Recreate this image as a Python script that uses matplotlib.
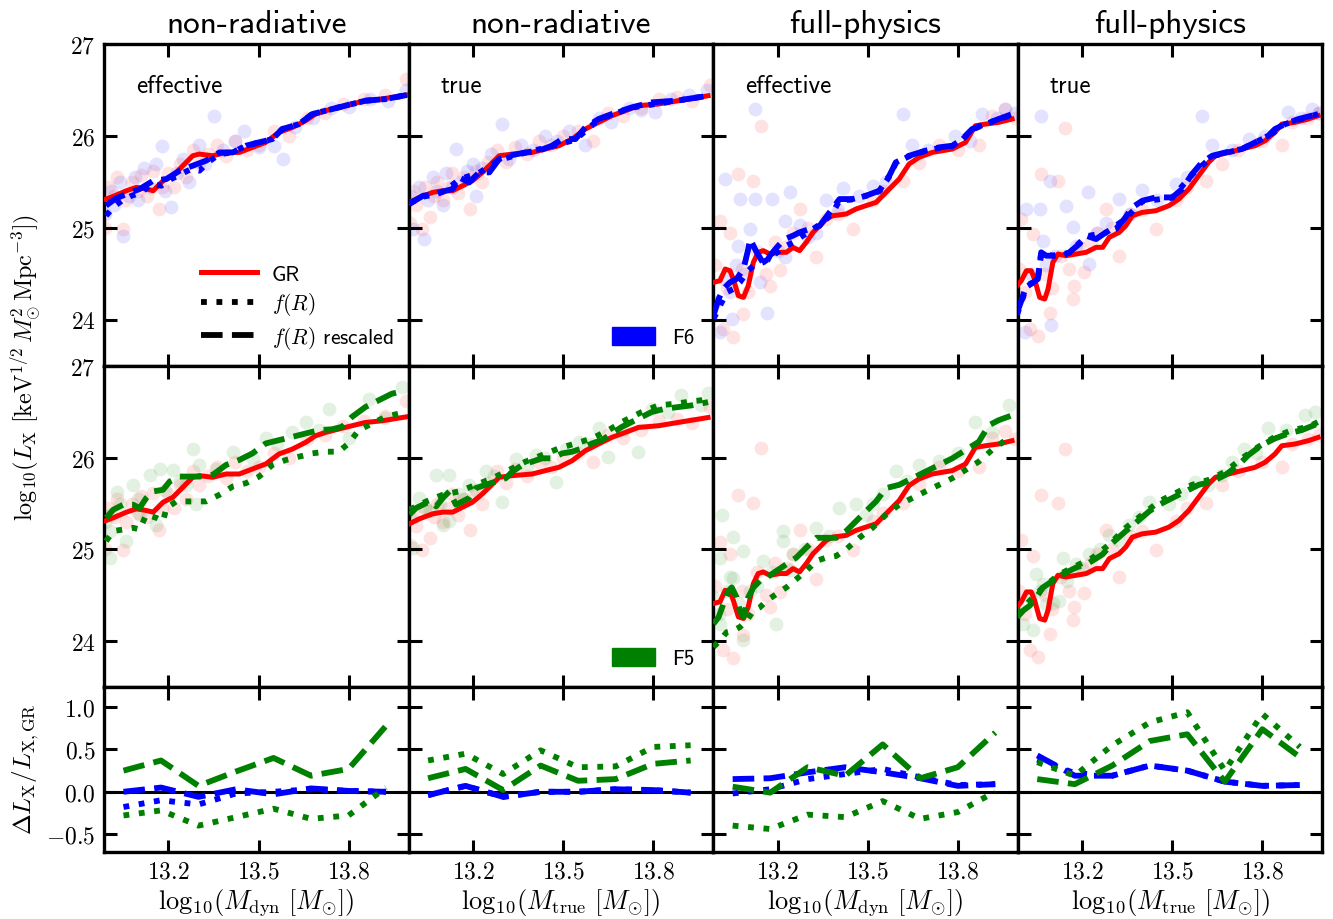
import matplotlib
matplotlib.use("Agg")
import matplotlib.pyplot as plt
from matplotlib.lines import Line2D
from matplotlib.patches import Patch

plt.rcParams['mathtext.fontset'] = 'cm'
plt.rcParams['font.family'] = ['cmss10', 'DejaVu Sans']
plt.rcParams['axes.unicode_minus'] = False

# ---------------- data ----------------
COL_TITLES = ["non-radiative", "non-radiative", "full-physics", "full-physics"]
COL_TAGS = ["effective", "true", "effective", "true"]
XLABELS = [r'$\mathrm{log}_{10}(M_{\rm dyn}\ [M_{\odot}])$', r'$\mathrm{log}_{10}(M_{\rm true}\ [M_{\odot}])$',
           r'$\mathrm{log}_{10}(M_{\rm dyn}\ [M_{\odot}])$', r'$\mathrm{log}_{10}(M_{\rm true}\ [M_{\odot}])$']

# GR running medians (shared by rows 1 and 2)
gr_x_c1 = [12.992, 13.021, 13.06, 13.093, 13.126, 13.149, 13.182, 13.215, 13.259, 13.281, 13.303, 13.347, 13.392, 13.436, 13.48, 13.524, 13.568, 13.613, 13.657, 13.69, 13.723, 13.767, 13.811, 13.856, 13.911, 13.966, 13.994]
gr_y_c1 = [25.315, 25.351, 25.406, 25.442, 25.424, 25.406, 25.514, 25.569, 25.714, 25.786, 25.804, 25.786, 25.822, 25.822, 25.877, 25.931, 26.04, 26.094, 26.167, 26.239, 26.275, 26.312, 26.348, 26.384, 26.402, 26.431, 26.446]
gr_x_c2 = [12.988, 13.021, 13.066, 13.099, 13.132, 13.165, 13.198, 13.231, 13.265, 13.287, 13.331, 13.397, 13.441, 13.486, 13.53, 13.574, 13.618, 13.662, 13.707, 13.751, 13.817, 13.883, 13.95, 13.983]
gr_y_c2 = [25.279, 25.333, 25.388, 25.406, 25.406, 25.46, 25.514, 25.605, 25.714, 25.786, 25.804, 25.822, 25.859, 25.895, 25.967, 26.076, 26.149, 26.221, 26.275, 26.33, 26.348, 26.384, 26.42, 26.438]
gr_x_c3 = [12.986, 13.008, 13.025, 13.041, 13.052, 13.069, 13.086, 13.102, 13.119, 13.135, 13.152, 13.174, 13.207, 13.229, 13.251, 13.273, 13.295, 13.318, 13.34, 13.362, 13.384, 13.428, 13.461, 13.494, 13.528, 13.561, 13.605, 13.638, 13.671, 13.715, 13.782, 13.826, 13.859, 13.892, 13.936, 13.981]
gr_y_c3 = [24.409, 24.428, 24.554, 24.536, 24.446, 24.264, 24.246, 24.373, 24.627, 24.736, 24.754, 24.717, 24.736, 24.736, 24.79, 24.754, 24.844, 24.953, 25.025, 25.098, 25.134, 25.152, 25.207, 25.243, 25.279, 25.388, 25.533, 25.696, 25.768, 25.822, 25.859, 25.931, 26.112, 26.13, 26.149, 26.185]
gr_x_c4 = [12.983, 12.997, 13.014, 13.03, 13.041, 13.058, 13.075, 13.086, 13.102, 13.119, 13.146, 13.179, 13.213, 13.246, 13.268, 13.29, 13.323, 13.345, 13.367, 13.40, 13.445, 13.489, 13.522, 13.555, 13.588, 13.621, 13.644, 13.688, 13.732, 13.776, 13.809, 13.842, 13.865, 13.909, 13.953, 13.986]
gr_y_c4 = [24.373, 24.428, 24.536, 24.536, 24.446, 24.246, 24.228, 24.337, 24.627, 24.717, 24.699, 24.717, 24.736, 24.79, 24.79, 24.899, 24.953, 25.025, 25.134, 25.17, 25.188, 25.243, 25.315, 25.424, 25.569, 25.714, 25.786, 25.822, 25.859, 25.895, 25.949, 26.04, 26.13, 26.149, 26.185, 26.221]

# F6 medians (row 1): dotted = f(R), dashed = f(R) rescaled
f6d_x_c1 = [12.992, 13.016, 13.044, 13.077, 13.11, 13.143, 13.176, 13.209, 13.242, 13.275, 13.303, 13.331, 13.37, 13.414, 13.458, 13.502, 13.546, 13.579, 13.635, 13.679, 13.723, 13.789, 13.856, 13.922, 13.994]
f6d_y_c1 = [25.134, 25.225, 25.297, 25.351, 25.388, 25.478, 25.46, 25.533, 25.587, 25.641, 25.623, 25.714, 25.804, 25.822, 25.895, 25.931, 25.967, 26.076, 26.13, 26.239, 26.275, 26.33, 26.384, 26.402, 26.446]
f6r_x_c1 = [12.992, 13.021, 13.06, 13.104, 13.149, 13.193, 13.237, 13.281, 13.325, 13.37, 13.414, 13.458, 13.502, 13.546, 13.579, 13.635, 13.679, 13.723, 13.789, 13.856, 13.922, 13.994]
f6r_y_c1 = [25.243, 25.315, 25.37, 25.424, 25.514, 25.533, 25.623, 25.678, 25.732, 25.822, 25.822, 25.895, 25.931, 25.967, 26.076, 26.13, 26.239, 26.275, 26.33, 26.384, 26.402, 26.446]
f6r_x_c2 = [12.988, 13.033, 13.077, 13.11, 13.132, 13.154, 13.187, 13.22, 13.254, 13.287, 13.32, 13.375, 13.419, 13.463, 13.497, 13.541, 13.574, 13.618, 13.662, 13.729, 13.795, 13.872, 13.95, 13.983]
f6r_y_c2 = [25.261, 25.351, 25.37, 25.406, 25.424, 25.551, 25.496, 25.605, 25.605, 25.75, 25.786, 25.822, 25.841, 25.895, 25.967, 25.967, 26.094, 26.185, 26.239, 26.312, 26.366, 26.384, 26.42, 26.438]
f6d_x_c2 = [12.988, 13.033, 13.077, 13.11, 13.154, 13.22, 13.287, 13.375, 13.463, 13.541, 13.618, 13.729, 13.872, 13.983]
f6d_y_c2 = [25.27, 25.34, 25.37, 25.41, 25.53, 25.60, 25.74, 25.82, 25.89, 25.96, 26.18, 26.31, 26.38, 26.44]
f6r_x_c3 = [12.986, 13.003, 13.019, 13.041, 13.063, 13.086, 13.102, 13.108, 13.13, 13.157, 13.174, 13.202, 13.224, 13.251, 13.273, 13.306, 13.34, 13.373, 13.406, 13.45, 13.494, 13.539, 13.572, 13.594, 13.638, 13.693, 13.738, 13.782, 13.815, 13.848, 13.892, 13.936, 13.981]
f6r_y_c3 = [24.047, 24.228, 24.337, 24.409, 24.446, 24.554, 24.772, 24.88, 24.736, 24.591, 24.699, 24.808, 24.88, 24.917, 24.953, 24.989, 25.025, 25.17, 25.315, 25.315, 25.351, 25.406, 25.569, 25.714, 25.786, 25.841, 25.877, 25.895, 25.967, 26.076, 26.13, 26.185, 26.239]
f6d_x_c3 = [12.986, 13.008, 13.03, 13.052, 13.074, 13.097, 13.119, 13.152, 13.185, 13.218, 13.251, 13.284, 13.318, 13.351, 13.384, 13.406, 13.45, 13.494, 13.539, 13.572, 13.594, 13.638, 13.693, 13.738, 13.782, 13.815, 13.848, 13.892, 13.936, 13.981]
f6d_y_c3 = [24.011, 24.156, 24.301, 24.337, 24.409, 24.518, 24.591, 24.627, 24.699, 24.79, 24.844, 24.917, 24.989, 25.062, 25.17, 25.30, 25.31, 25.35, 25.40, 25.56, 25.71, 25.78, 25.84, 25.87, 25.89, 25.96, 26.07, 26.13, 26.18, 26.23]
f6r_x_c4 = [12.983, 12.997, 13.014, 13.036, 13.052, 13.063, 13.08, 13.102, 13.135, 13.157, 13.19, 13.213, 13.246, 13.279, 13.312, 13.34, 13.367, 13.40, 13.445, 13.5, 13.533, 13.566, 13.599, 13.633, 13.677, 13.732, 13.776, 13.82, 13.842, 13.876, 13.92, 13.986]
f6r_y_c4 = [24.083, 24.21, 24.373, 24.409, 24.446, 24.736, 24.699, 24.699, 24.699, 24.736, 24.826, 24.917, 24.88, 24.953, 24.989, 25.098, 25.225, 25.297, 25.333, 25.333, 25.424, 25.587, 25.714, 25.786, 25.822, 25.859, 25.931, 26.004, 26.076, 26.13, 26.185, 26.239]
f6d_x_c4 = [12.983, 13.014, 13.052, 13.063, 13.102, 13.157, 13.213, 13.279, 13.34, 13.40, 13.5, 13.566, 13.633, 13.732, 13.82, 13.876, 13.986]
f6d_y_c4 = [24.06, 24.36, 24.44, 24.72, 24.70, 24.73, 24.91, 24.95, 25.09, 25.29, 25.33, 25.58, 25.78, 25.86, 26.00, 26.13, 26.24]

# F5 medians (row 2)
f5r_x_c1 = [12.992, 13.016, 13.049, 13.082, 13.104, 13.126, 13.149, 13.182, 13.204, 13.237, 13.27, 13.303, 13.347, 13.392, 13.436, 13.48, 13.524, 13.568, 13.613, 13.657, 13.701, 13.745, 13.778, 13.811, 13.856, 13.90, 13.944, 13.988]
f5r_y_c1 = [25.343, 25.433, 25.487, 25.487, 25.451, 25.56, 25.632, 25.65, 25.74, 25.794, 25.794, 25.794, 25.812, 25.921, 25.975, 26.047, 26.155, 26.191, 26.227, 26.264, 26.30, 26.31, 26.336, 26.444, 26.552, 26.625, 26.697, 26.733]
f5d_x_c1 = [12.992, 13.016, 13.049, 13.082, 13.104, 13.126, 13.16, 13.182, 13.193, 13.226, 13.259, 13.292, 13.325, 13.37, 13.414, 13.458, 13.502, 13.546, 13.591, 13.635, 13.679, 13.723, 13.767, 13.80, 13.834, 13.878, 13.922, 13.966, 13.988]
f5d_y_c1 = [25.09, 25.199, 25.217, 25.235, 25.217, 25.379, 25.343, 25.307, 25.451, 25.523, 25.523, 25.523, 25.523, 25.596, 25.686, 25.722, 25.794, 25.921, 25.975, 26.011, 26.047, 26.065, 26.065, 26.155, 26.30, 26.372, 26.444, 26.48, 26.498]
f5r_x_c2 = [12.988, 13.01, 13.033, 13.055, 13.077, 13.099, 13.121, 13.143, 13.165, 13.187, 13.209, 13.242, 13.276, 13.309, 13.331, 13.364, 13.397, 13.43, 13.463, 13.497, 13.53, 13.563, 13.596, 13.629, 13.662, 13.696, 13.729, 13.762, 13.795, 13.839, 13.883, 13.928, 13.983]
f5r_y_c2 = [25.379, 25.451, 25.487, 25.523, 25.469, 25.56, 25.632, 25.487, 25.523, 25.56, 25.668, 25.704, 25.74, 25.776, 25.848, 25.921, 25.957, 25.993, 25.993, 26.047, 26.065, 26.101, 26.155, 26.191, 26.264, 26.336, 26.39, 26.444, 26.498, 26.534, 26.552, 26.57, 26.606]
f5d_x_c2 = [12.988, 13.044, 13.099, 13.154, 13.209, 13.265, 13.32, 13.375, 13.43, 13.486, 13.541, 13.596, 13.651, 13.707, 13.762, 13.817, 13.872, 13.928, 13.983]
f5d_y_c2 = [25.433, 25.523, 25.596, 25.632, 25.704, 25.776, 25.866, 25.957, 26.029, 26.101, 26.155, 26.209, 26.30, 26.408, 26.498, 26.57, 26.588, 26.614, 26.635]
f5r_x_c3 = [12.986, 13.003, 13.019, 13.036, 13.047, 13.063, 13.074, 13.086, 13.102, 13.119, 13.141, 13.163, 13.196, 13.229, 13.262, 13.295, 13.329, 13.362, 13.395, 13.428, 13.461, 13.494, 13.528, 13.561, 13.605, 13.649, 13.693, 13.738, 13.782, 13.826, 13.87, 13.904, 13.936, 13.981]
f5r_y_c3 = [24.188, 24.26, 24.404, 24.549, 24.585, 24.477, 24.332, 24.26, 24.477, 24.585, 24.657, 24.693, 24.765, 24.838, 24.91, 25.018, 25.126, 25.126, 25.126, 25.199, 25.307, 25.415, 25.523, 25.668, 25.704, 25.776, 25.848, 25.921, 25.993, 26.083, 26.173, 26.354, 26.408, 26.462]
f5d_x_c3 = [12.986, 13.008, 13.03, 13.052, 13.074, 13.097, 13.119, 13.141, 13.163, 13.196, 13.229, 13.262, 13.295, 13.329, 13.362, 13.395, 13.428, 13.472, 13.516, 13.561, 13.605, 13.649, 13.693, 13.738, 13.782, 13.826, 13.87, 13.914, 13.959, 13.981]
f5d_y_c3 = [23.935, 24.007, 24.097, 24.115, 24.152, 24.224, 24.332, 24.368, 24.44, 24.513, 24.585, 24.675, 24.765, 24.874, 24.91, 24.928, 25.0, 25.126, 25.235, 25.379, 25.487, 25.56, 25.632, 25.704, 25.776, 25.866, 25.957, 26.083, 26.191, 26.227]
f5r_x_c4 = [12.983, 13.003, 13.025, 13.047, 13.069, 13.102, 13.135, 13.179, 13.224, 13.268, 13.301, 13.345, 13.378, 13.423, 13.456, 13.5, 13.544, 13.588, 13.633, 13.677, 13.721, 13.754, 13.798, 13.842, 13.887, 13.931, 13.986]
f5r_y_c4 = [24.26, 24.332, 24.386, 24.477, 24.585, 24.657, 24.729, 24.801, 24.856, 24.946, 25.072, 25.199, 25.289, 25.415, 25.487, 25.56, 25.632, 25.704, 25.74, 25.812, 25.921, 26.029, 26.137, 26.209, 26.264, 26.30, 26.372]
f5d_x_c4 = [12.983, 13.025, 13.069, 13.124, 13.179, 13.235, 13.29, 13.345, 13.40, 13.456, 13.511, 13.566, 13.621, 13.677, 13.732, 13.787, 13.842, 13.898, 13.953, 13.986]
f5d_y_c4 = [24.296, 24.44, 24.585, 24.729, 24.819, 24.91, 25.054, 25.235, 25.379, 25.523, 25.614, 25.704, 25.758, 25.848, 25.993, 26.119, 26.227, 26.30, 26.336, 26.39]

# scatter: individual clusters
gr_sx_c1 = [12.99, 13.00, 13.02, 13.03, 13.05, 13.06, 13.08, 13.10, 13.11, 13.13, 13.15, 13.17, 13.18, 13.20, 13.22, 13.24, 13.26, 13.28, 13.30, 13.33, 13.36, 13.39, 13.42, 13.46, 13.50, 13.55, 13.60, 13.66, 13.72, 13.78, 13.85, 13.92, 13.99]
gr_sy_c1 = [25.0, 25.45, 25.35, 25.55, 24.99, 25.30, 25.50, 25.40, 25.58, 25.35, 25.62, 25.21, 25.45, 25.60, 25.45, 25.70, 25.55, 25.85, 25.70, 25.80, 25.90, 25.78, 25.95, 25.85, 25.90, 26.05, 26.00, 26.20, 26.25, 26.35, 26.40, 26.45, 26.62]
gr_sx_c2 = [12.99, 13.00, 13.01, 13.03, 13.04, 13.055, 13.07, 13.08, 13.10, 13.12, 13.13, 13.15, 13.17, 13.19, 13.21, 13.23, 13.25, 13.28, 13.31, 13.34, 13.38, 13.42, 13.46, 13.50, 13.55, 13.60, 13.65, 13.70, 13.76, 13.82, 13.88, 13.93, 13.99]
gr_sy_c2 = [25.05, 25.40, 25.25, 24.99, 25.45, 25.12, 25.35, 25.50, 25.30, 25.45, 25.60, 25.38, 25.55, 25.21, 25.62, 25.50, 25.72, 25.85, 25.72, 25.88, 25.80, 25.95, 25.90, 26.00, 26.05, 25.95, 26.25, 26.22, 26.30, 26.40, 26.42, 26.38, 26.55]
gr_sx_c3 = [12.99, 13.008, 13.019, 13.03, 13.041, 13.052, 13.069, 13.08, 13.086, 13.10, 13.119, 13.13, 13.146, 13.16, 13.174, 13.19, 13.207, 13.23, 13.25, 13.273, 13.30, 13.329, 13.36, 13.40, 13.45, 13.516, 13.55, 13.616, 13.671, 13.738, 13.80, 13.87, 13.914, 13.958, 13.99]
gr_sy_c3 = [24.60, 25.08, 23.90, 24.35, 24.95, 23.81, 25.59, 24.55, 24.07, 24.30, 25.51, 24.75, 26.11, 24.50, 24.37, 24.85, 24.54, 24.80, 24.95, 25.21, 25.00, 24.68, 25.10, 25.15, 24.99, 25.31, 25.40, 25.51, 25.71, 25.90, 25.85, 25.90, 26.22, 26.29, 26.20]
gr_sx_c4 = [12.99, 12.997, 13.01, 13.025, 13.036, 13.052, 13.063, 13.075, 13.091, 13.10, 13.119, 13.13, 13.141, 13.155, 13.168, 13.174, 13.19, 13.207, 13.23, 13.25, 13.279, 13.30, 13.323, 13.36, 13.40, 13.445, 13.511, 13.55, 13.611, 13.666, 13.72, 13.80, 13.865, 13.90, 13.953, 13.99]
gr_sy_c4 = [24.55, 25.10, 24.30, 23.90, 24.93, 23.83, 25.59, 24.50, 24.08, 24.35, 25.51, 24.70, 26.09, 24.55, 24.23, 24.37, 24.80, 24.52, 24.85, 24.95, 25.21, 25.00, 24.70, 25.15, 25.20, 24.99, 25.31, 25.45, 25.51, 25.70, 25.85, 25.95, 25.90, 26.15, 26.20, 26.25]

f6_sx_c1 = [12.99, 13.01, 13.02, 13.04, 13.05, 13.07, 13.09, 13.10, 13.12, 13.14, 13.16, 13.18, 13.19, 13.21, 13.23, 13.25, 13.27, 13.30, 13.32, 13.35, 13.38, 13.42, 13.45, 13.50, 13.55, 13.58, 13.62, 13.68, 13.74, 13.80, 13.87, 13.93, 13.99]
f6_sy_c1 = [25.15, 25.40, 25.25, 25.50, 24.91, 25.35, 25.55, 25.30, 25.65, 25.45, 25.70, 25.89, 25.40, 25.23, 25.60, 25.75, 25.50, 25.90, 25.70, 26.22, 25.85, 25.95, 26.05, 25.88, 25.89, 25.75, 26.10, 26.20, 26.30, 26.32, 26.40, 26.38, 26.50]
f6_sx_c2 = [12.99, 13.00, 13.02, 13.038, 13.05, 13.065, 13.08, 13.10, 13.11, 13.13, 13.143, 13.16, 13.18, 13.20, 13.209, 13.23, 13.26, 13.298, 13.32, 13.36, 13.40, 13.44, 13.48, 13.52, 13.574, 13.62, 13.66, 13.72, 13.76, 13.806, 13.86, 13.92, 13.98]
f6_sy_c2 = [25.35, 24.99, 25.45, 24.88, 25.30, 25.55, 25.40, 25.25, 25.60, 25.45, 25.86, 25.50, 25.62, 25.70, 25.35, 25.65, 25.80, 26.13, 25.75, 25.90, 25.85, 26.00, 25.95, 26.05, 25.90, 26.20, 26.15, 26.30, 26.28, 26.26, 26.40, 26.45, 26.50]
f6_sx_c3 = [12.99, 13.008, 13.02, 13.025, 13.04, 13.047, 13.06, 13.069, 13.074, 13.09, 13.108, 13.124, 13.124, 13.141, 13.163, 13.18, 13.20, 13.224, 13.224, 13.24, 13.273, 13.30, 13.329, 13.362, 13.40, 13.417, 13.47, 13.516, 13.56, 13.616, 13.649, 13.70, 13.792, 13.84, 13.881, 13.93, 13.958, 13.99]
f6_sy_c3 = [24.20, 23.87, 24.45, 25.53, 24.30, 24.01, 24.60, 24.81, 25.32, 24.50, 24.99, 26.29, 25.32, 24.41, 24.08, 25.32, 24.75, 25.08, 24.68, 25.39, 25.03, 24.90, 24.95, 25.30, 25.20, 25.44, 25.35, 25.46, 25.50, 26.24, 25.90, 25.85, 26.00, 25.95, 26.24, 26.20, 26.29, 26.25]
f6_sx_c4 = [12.99, 13.008, 13.014, 13.03, 13.058, 13.063, 13.069, 13.08, 13.091, 13.097, 13.11, 13.146, 13.168, 13.18, 13.218, 13.224, 13.25, 13.28, 13.323, 13.36, 13.40, 13.45, 13.511, 13.55, 13.599, 13.633, 13.70, 13.754, 13.81, 13.887, 13.93, 13.964, 13.99]
f6_sy_c4 = [24.25, 23.87, 25.21, 24.50, 25.21, 26.22, 24.86, 24.60, 25.51, 23.95, 24.70, 25.24, 25.01, 24.80, 25.39, 24.61, 24.95, 25.05, 25.32, 25.15, 25.41, 25.30, 25.48, 25.55, 26.22, 25.90, 25.85, 25.97, 26.00, 26.26, 26.20, 26.29, 26.25]

f5_sx_c1 = [12.99, 13.005, 13.005, 13.005, 13.027, 13.04, 13.06, 13.082, 13.10, 13.104, 13.138, 13.16, 13.171, 13.19, 13.215, 13.24, 13.259, 13.281, 13.292, 13.303, 13.358, 13.414, 13.48, 13.524, 13.56, 13.613, 13.657, 13.70, 13.734, 13.80, 13.867, 13.922, 13.977]
f5_sy_c1 = [25.30, 24.91, 25.38, 25.20, 25.63, 25.50, 25.09, 25.70, 25.55, 25.38, 25.81, 25.27, 25.88, 25.65, 25.87, 25.75, 25.70, 26.10, 25.49, 25.92, 25.88, 26.06, 25.99, 26.21, 26.15, 26.28, 26.39, 26.30, 26.53, 26.21, 26.64, 26.43, 26.77]
f5_sx_c2 = [12.99, 12.999, 13.021, 13.04, 13.055, 13.077, 13.09, 13.099, 13.121, 13.121, 13.154, 13.17, 13.187, 13.21, 13.242, 13.27, 13.298, 13.342, 13.38, 13.409, 13.44, 13.475, 13.508, 13.552, 13.59, 13.618, 13.651, 13.70, 13.751, 13.795, 13.85, 13.894, 13.96, 13.983]
f5_sy_c2 = [25.35, 25.02, 25.56, 25.45, 25.42, 25.81, 25.50, 25.27, 25.81, 25.31, 25.60, 25.55, 25.70, 25.65, 25.85, 25.80, 25.52, 25.99, 25.90, 26.03, 26.00, 25.74, 26.10, 26.17, 26.15, 26.32, 26.01, 26.30, 26.06, 26.53, 26.50, 26.68, 26.57, 26.71]
f5_sx_c3 = [12.986, 13.003, 13.008, 13.008, 13.014, 13.03, 13.04, 13.052, 13.052, 13.07, 13.086, 13.086, 13.108, 13.13, 13.152, 13.18, 13.196, 13.218, 13.218, 13.24, 13.251, 13.29, 13.329, 13.37, 13.406, 13.461, 13.494, 13.516, 13.55, 13.594, 13.63, 13.671, 13.738, 13.80, 13.859, 13.914, 13.97]
f5_sy_c3 = [24.48, 24.30, 24.91, 24.19, 25.38, 24.55, 24.70, 25.13, 24.69, 24.40, 24.98, 24.01, 24.55, 24.60, 24.87, 24.75, 24.19, 25.20, 25.09, 24.77, 24.95, 25.00, 25.23, 25.15, 25.45, 25.49, 25.38, 25.49, 25.60, 25.85, 25.75, 25.92, 25.96, 26.05, 26.39, 26.28, 26.57]
f5_sx_c4 = [12.99, 13.003, 13.025, 13.036, 13.047, 13.06, 13.069, 13.08, 13.102, 13.124, 13.135, 13.15, 13.179, 13.20, 13.224, 13.26, 13.29, 13.32, 13.356, 13.39, 13.423, 13.489, 13.53, 13.577, 13.62, 13.666, 13.70, 13.738, 13.78, 13.82, 13.88, 13.942, 13.975]
f5_sy_c4 = [24.35, 24.19, 24.48, 24.12, 24.73, 24.55, 24.62, 24.40, 24.41, 24.44, 24.91, 24.65, 24.84, 24.80, 24.95, 25.00, 25.16, 25.10, 25.27, 25.35, 25.52, 25.49, 25.60, 25.74, 25.70, 25.81, 25.95, 26.10, 26.05, 26.32, 26.30, 26.46, 26.50]

# ratio panels (row 3): binned Delta L_X / L_X,GR
bin_x = [13.05, 13.175, 13.30, 13.425, 13.55, 13.675, 13.80, 13.925]
rat_f6d = [[-0.18, -0.10, -0.15, -0.02, 0.0, 0.03, 0.01, 0.0],
           [-0.04, 0.07, -0.06, 0.0, 0.0, 0.03, 0.02, -0.01],
           [-0.02, 0.03, 0.15, 0.21, 0.27, 0.17, 0.08, 0.09],
           [0.38, 0.22, 0.19, 0.31, 0.25, 0.12, 0.07, 0.08]]
rat_f6r = [[0.0, 0.05, -0.06, 0.03, -0.03, 0.04, 0.01, 0.0],
           [-0.04, 0.07, -0.06, 0.0, 0.0, 0.03, 0.02, -0.01],
           [0.15, 0.16, 0.23, 0.29, 0.23, 0.16, 0.07, 0.09],
           [0.43, 0.19, 0.19, 0.31, 0.25, 0.12, 0.07, 0.08]]
rat_f5d = [[-0.28, -0.22, -0.40, -0.30, -0.20, -0.32, -0.28, 0.05],
           [0.37, 0.45, 0.21, 0.49, 0.29, 0.30, 0.53, 0.55],
           [-0.40, -0.44, -0.27, -0.30, -0.11, -0.32, -0.24, 0.0],
           [0.35, 0.19, 0.55, 0.82, 0.94, 0.25, 0.92, 0.53]]
rat_f5r = [[0.25, 0.37, 0.07, 0.24, 0.40, 0.19, 0.27, 0.78],
           [0.16, 0.27, 0.02, 0.31, 0.13, 0.15, 0.33, 0.37],
           [0.06, -0.01, 0.29, 0.19, 0.56, 0.16, 0.29, 0.70],
           [0.15, 0.09, 0.31, 0.60, 0.68, 0.12, 0.74, 0.41]]

GR_LINES = [(gr_x_c1, gr_y_c1), (gr_x_c2, gr_y_c2), (gr_x_c3, gr_y_c3), (gr_x_c4, gr_y_c4)]
F6_DOT = [(f6d_x_c1, f6d_y_c1), (f6d_x_c2, f6d_y_c2), (f6d_x_c3, f6d_y_c3), (f6d_x_c4, f6d_y_c4)]
F6_RES = [(f6r_x_c1, f6r_y_c1), (f6r_x_c2, f6r_y_c2), (f6r_x_c3, f6r_y_c3), (f6r_x_c4, f6r_y_c4)]
F5_DOT = [(f5d_x_c1, f5d_y_c1), (f5d_x_c2, f5d_y_c2), (f5d_x_c3, f5d_y_c3), (f5d_x_c4, f5d_y_c4)]
F5_RES = [(f5r_x_c1, f5r_y_c1), (f5r_x_c2, f5r_y_c2), (f5r_x_c3, f5r_y_c3), (f5r_x_c4, f5r_y_c4)]
GR_SC = [(gr_sx_c1, gr_sy_c1), (gr_sx_c2, gr_sy_c2), (gr_sx_c3, gr_sy_c3), (gr_sx_c4, gr_sy_c4)]
F6_SC = [(f6_sx_c1, f6_sy_c1), (f6_sx_c2, f6_sy_c2), (f6_sx_c3, f6_sy_c3), (f6_sx_c4, f6_sy_c4)]
F5_SC = [(f5_sx_c1, f5_sy_c1), (f5_sx_c2, f5_sy_c2), (f5_sx_c3, f5_sy_c3), (f5_sx_c4, f5_sy_c4)]

RED, BLUE, GREEN = '#ff0000', '#0000ff', '#008000'

# ---------------- figure ----------------
fig = plt.figure(figsize=(13.33, 9.2), dpi=100)
gs = fig.add_gridspec(3, 4, left=0.078, right=0.992, top=0.951, bottom=0.073,
                      height_ratios=[322, 321, 165], hspace=0, wspace=0)

XLIM = (12.985, 14.0)
SC_KW = dict(s=100, alpha=0.11, linewidths=0, zorder=1)
LW_SOLID, LW_BROKEN = 3.6, 4.2


def style(ax):
    for sp in ax.spines.values():
        sp.set_linewidth(2.4)
    ax.tick_params(direction='in', length=9, width=2.2, top=True, right=True,
                   labelsize=17, pad=6)


for c in range(4):
    for r in range(3):
        ax = fig.add_subplot(gs[r, c])
        style(ax)
        ax.set_xlim(*XLIM)
        ax.set_xticks([13.2, 13.5, 13.8])
        if r < 2:
            ax.set_ylim(23.5, 27)
            ax.set_yticks([24, 25, 26, 27])
            ax.set_yticklabels([r'$24$', r'$25$', r'$26$', r'$27$'])
            model_sc = F6_SC[c] if r == 0 else F5_SC[c]
            mcol = BLUE if r == 0 else GREEN
            dot = F6_DOT[c] if r == 0 else F5_DOT[c]
            res = F6_RES[c] if r == 0 else F5_RES[c]
            ax.scatter(GR_SC[c][0], GR_SC[c][1], color=RED, **SC_KW)
            ax.scatter(model_sc[0], model_sc[1], color=mcol, **SC_KW)
            ax.plot(GR_LINES[c][0], GR_LINES[c][1], color=RED, lw=LW_SOLID, zorder=3)
            ax.plot(dot[0], dot[1], color=mcol, lw=LW_BROKEN, ls=':', zorder=4)
            ax.plot(res[0], res[1], color=mcol, lw=LW_BROKEN, ls='--', zorder=5)
            ax.set_xticklabels([])
        else:
            ax.set_ylim(-0.71, 1.24)
            ax.set_yticks([-0.5, 0.0, 0.5, 1.0])
            ax.set_yticklabels([r'$-0.5$', r'$0.0$', r'$0.5$', r'$1.0$'])
            ax.axhline(0, color='black', lw=2.2, zorder=2)
            ax.plot(bin_x, rat_f6d[c], color=BLUE, lw=LW_BROKEN, ls=':', zorder=3)
            ax.plot(bin_x, rat_f6r[c], color=BLUE, lw=LW_BROKEN, ls='--', zorder=4)
            ax.plot(bin_x, rat_f5d[c], color=GREEN, lw=LW_BROKEN, ls=':', zorder=5)
            ax.plot(bin_x, rat_f5r[c], color=GREEN, lw=LW_BROKEN, ls='--', zorder=6)
            ax.set_xticklabels([r'$13.2$', r'$13.5$', r'$13.8$'])
            ax.set_xlabel(XLABELS[c], fontsize=19, labelpad=3)
        if c > 0:
            ax.set_yticklabels([])
        if r == 0:
            ax.set_title(COL_TITLES[c], fontsize=24, pad=9)
            ax.text(0.105, 0.87, COL_TAGS[c], transform=ax.transAxes,
                    fontsize=18, va='center', ha='left')
        if r == 0 and c == 0:
            hs = [Line2D([], [], color=RED, lw=LW_SOLID),
                  Line2D([], [], color='black', lw=LW_BROKEN, ls=':'),
                  Line2D([], [], color='black', lw=LW_BROKEN, ls='--')]
            ax.legend(hs, ['GR', r'$f(R)$', r'$f(R)$ rescaled'], loc='lower right',
                      frameon=False, fontsize=15.5, handlelength=2.6,
                      borderaxespad=0.3, labelspacing=0.3, handletextpad=0.7)
        if r == 0 and c == 1:
            ax.legend([Patch(color=BLUE)], ['F6'], loc='lower right', frameon=False,
                      fontsize=15, handlelength=2.1, handleheight=0.95,
                      borderaxespad=0.5)
        if r == 1 and c == 1:
            ax.legend([Patch(color=GREEN)], ['F5'], loc='lower right', frameon=False,
                      fontsize=15, handlelength=2.1, handleheight=0.95,
                      borderaxespad=0.5)

fig.text(0.019, 0.601, r'$\mathrm{log}_{10}(L_{\rm X}\ [{\rm keV}^{1/2}\,M_{\odot}^{2}\,{\rm Mpc}^{-3}])$',
         rotation=90, fontsize=17.5, ha='center', va='center')
fig.text(0.019, 0.164, r'$\Delta L_{\rm X}/L_{\rm X,GR}$',
         rotation=90, fontsize=18, ha='center', va='center')

fig.savefig('out.png', dpi=100)
